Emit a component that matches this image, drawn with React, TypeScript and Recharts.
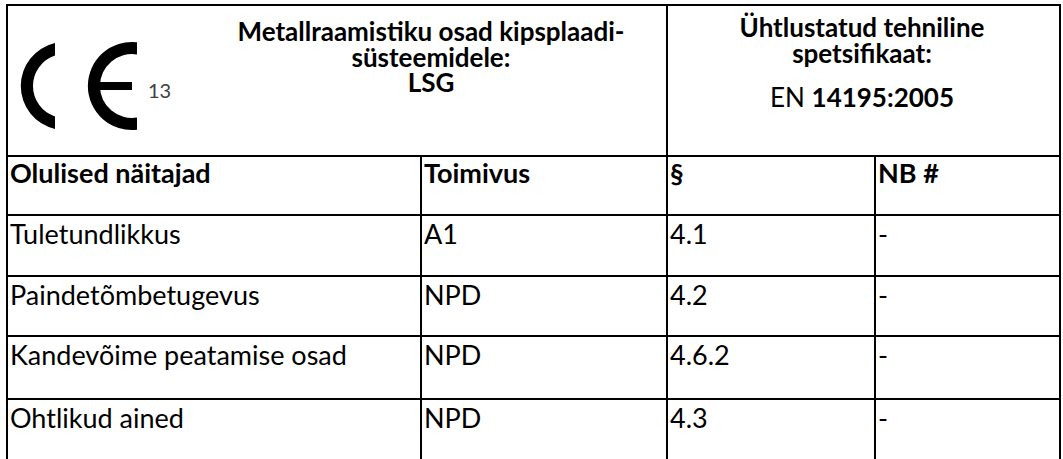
import React from "react";
import { ScatterChart, Scatter, XAxis, YAxis, ReferenceLine } from "recharts";

// ---- data ----
const titleLines = ["Metallraamistiku osad kipsplaadi-", "süsteemidele:", "LSG"];
const specLines = ["Ühtlustatud tehniline", "spetsifikaat:"];
const standardPrefix = "EN";
const standardNumber = "14195:2005";
const notifiedBodyNo = "13";

const headers = ["Olulised näitajad", "Toimivus", "§", "NB #"];
const characteristics = ["Tuletundlikkus", "Paindetõmbetugevus", "Kandevõime peatamise osad", "Ohtlikud ained"];
const performance = ["A1", "NPD", "NPD", "NPD"];
const clauses = ["4.1", "4.2", "4.6.2", "4.3"];
const notifiedBody = ["-", "-", "-", "-"];

// ---- layout ----
const W = 1063;
const H = 459;
const FONT = "Lato, Carlito, Calibri, sans-serif";
const colX = [7, 421, 667, 875, 1060];
const rowY = [5, 156, 215, 276, 336, 399];
const pad = 3;

type Cell = { x: number; y: number; label: string; bold?: boolean; anchor?: string; size?: number; parts?: { t: string; b: boolean }[] };

const tableCells: Cell[] = [];
headers.forEach((h, c) => tableCells.push({ x: colX[c] + pad, y: rowY[1] + 27, label: h, bold: true, size: 27 }));
const columns = [characteristics, performance, clauses, notifiedBody];
columns.forEach((col, c) =>
  col.forEach((v, r) => tableCells.push({ x: colX[c] + pad, y: rowY[r + 2] + 29, label: v, size: 27 }))
);

const titleCells: Cell[] = titleLines.map((t, i) => ({ x: 431, y: 41 + i * 25.5, label: t, bold: true, anchor: "middle" }));
const specCells: Cell[] = [
  ...specLines.map((t, i) => ({ x: 862, y: 37 + i * 26, label: t, bold: true, anchor: "middle" })),
  { x: 862, y: 107, label: "", anchor: "middle", parts: [{ t: standardPrefix + " ", b: false }, { t: standardNumber, b: true }] },
];
const logo = [{ x: 65, y: 86, label: notifiedBodyNo }];

const hLines = rowY.map((y) => ({ y, x1: colX[0], x2: colX[4] }));
const vLines = [
  { x: colX[0], y1: rowY[0] },
  { x: colX[1], y1: rowY[1] },
  { x: colX[2], y1: rowY[0] },
  { x: colX[3], y1: rowY[1] },
  { x: colX[4], y1: rowY[0] },
];

function TextShape(props: any) {
  const { cx, cy, payload } = props;
  const p = payload as Cell;
  return (
    <text
      x={cx}
      y={cy}
      textAnchor={(p.anchor as any) || "start"}
      fontFamily={FONT}
      fontSize={p.size || 26}
      fontWeight={p.bold ? 700 : 400}
      fill="#000"
    >
      {p.parts ? p.parts.map((s, i) => <tspan key={i} fontWeight={s.b ? 700 : 400}>{s.t}</tspan>) : p.label}
    </text>
  );
}

function LogoShape(props: any) {
  const { cx, cy, payload } = props;
  // C centred on (cx, cy), E centred 67px to the right
  const ex = cx + 67;
  const c = `M ${cx - 10} ${cy - 42.9} A 44 44 0 0 0 ${cx - 10} ${cy + 42.9} L ${cx - 10} ${cy + 30.4} A 32 32 0 0 1 ${cx - 10} ${cy - 30.4} Z`;
  const e = `M ${ex + 5} ${cy - 43.7} A 44 44 0 1 0 ${ex + 5} ${cy + 43.7} L ${ex + 5} ${cy + 31.6} A 32 32 0 1 1 ${ex + 5} ${cy - 31.6} Z`;
  return (
    <g>
      <path d={c} fill="#000" />
      <path d={e} fill="#000" />
      <rect x={ex - 38} y={cy - 4} width={38} height={8} fill="#000" />
      <text x={cx + 83} y={cy + 12} fontFamily={FONT} fontSize={20} fill="#404040">
        {payload.label}
      </text>
    </g>
  );
}

export default function App() {
  return (
    <div style={{ position: "absolute", left: 0, top: 0, width: W, height: H, background: "#fff" }}>
      <ScatterChart width={W} height={H} margin={{ top: 0, right: 0, bottom: 0, left: 0 }}>
        <XAxis type="number" dataKey="x" domain={[0, W]} hide />
        <YAxis type="number" dataKey="y" domain={[0, H]} reversed hide />
        {hLines.map((l, i) => (
          <ReferenceLine key={"h" + i} segment={[{ x: l.x1 - 1, y: l.y }, { x: l.x2 + 1, y: l.y }]} stroke="#000" strokeWidth={2} ifOverflow="visible" />
        ))}
        {vLines.map((l, i) => (
          <ReferenceLine key={"v" + i} segment={[{ x: l.x, y: l.y1 }, { x: l.x, y: H }]} stroke="#000" strokeWidth={2} ifOverflow="visible" />
        ))}
        <Scatter data={logo} shape={LogoShape} isAnimationActive={false} />
        <Scatter data={titleCells} shape={TextShape} isAnimationActive={false} />
        <Scatter data={specCells} shape={TextShape} isAnimationActive={false} />
        <Scatter data={tableCells} shape={TextShape} isAnimationActive={false} />
      </ScatterChart>
    </div>
  );
}
